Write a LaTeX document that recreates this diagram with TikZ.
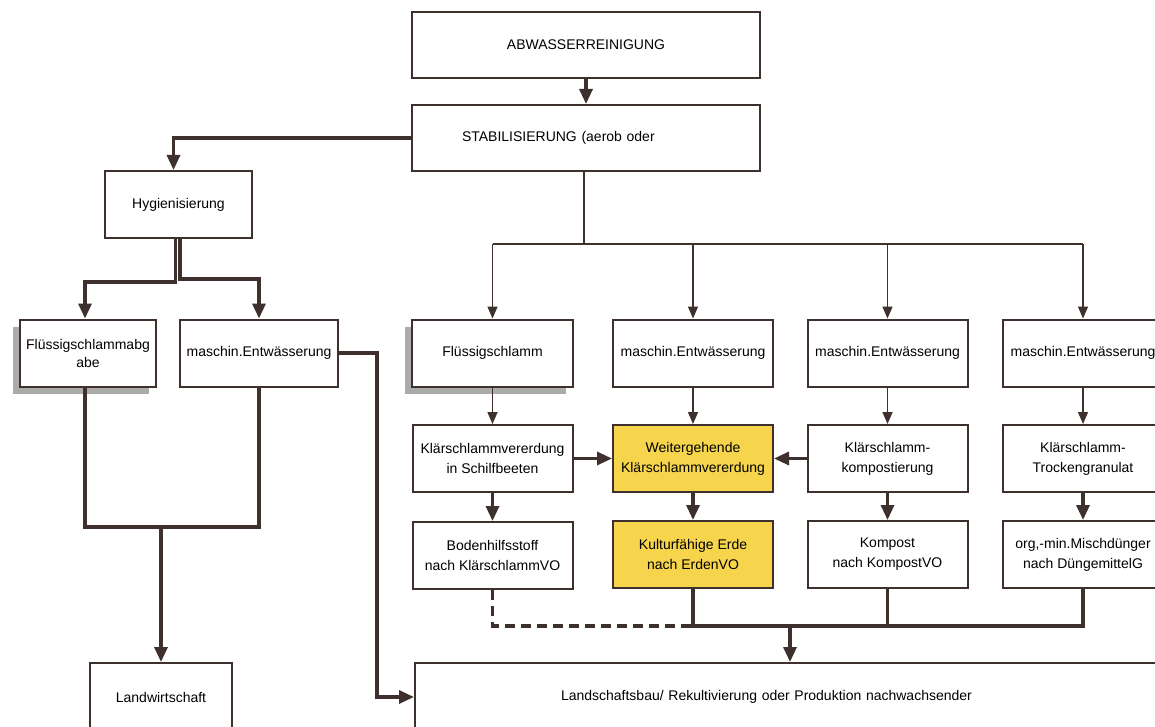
\documentclass[tikz,border=0pt]{standalone}
\usepackage{fontspec}
\setmainfont{Liberation Sans}
\usetikzlibrary{arrows.meta,shadows,calc}
\definecolor{lc}{HTML}{3D302D}
\definecolor{yel}{HTML}{F6D44C}
\definecolor{shad}{HTML}{ABABAB}
\begin{document}
\begin{tikzpicture}[x=1pt,y=-1pt,
  box/.style={draw=lc,line width=2pt,fill=white,inner sep=0pt,align=center,
    font=\fontsize{14}{20}\selectfont,minimum width=160pt,minimum height=67pt},
  hl/.style={box,fill=yel},
  shadowed/.style={drop shadow={shadow xshift=-7pt,shadow yshift=-7pt,fill=shad,opacity=1}},
  thk/.style={draw=lc,line width=3.2pt},
  thn/.style={draw=lc,line width=1.5pt},
  thkarrow/.style={thk,-{Triangle[length=15pt,width=13pt]}},
  thnarrow/.style={thn,-{Triangle[length=12pt,width=10pt]}},
  dashline/.style={thk,dash pattern=on 10pt off 6pt}]
\useasboundingbox (0,0) rectangle (1155,727);
\fill[white] (0,0) rectangle (1155,727);
\clip (0,0) rectangle (1155,727);

% top
\node[box,minimum width=348pt,minimum height=66pt] (abw) at (586,45) {ABWASSERREINIGUNG};
\node[box,minimum width=348pt,minimum height=66pt,text width=348pt,align=left] (stab) at (586,138)
  {\hspace*{50pt}STABILISIERUNG (aerob oder};

% left branch
\node[box,minimum width=147pt] (hyg) at (178.5,204.5) {Hygienisierung};
\node[box,shadowed,minimum width=136pt,font=\fontsize{14}{18}\selectfont] (fla) at (88,353) {Flüssigschlammabg\\abe};
\node[box,minimum width=158pt] (me1) at (259,353) {maschin.Entwässerung};
\node[box,minimum width=142pt,minimum height=68pt] (lw) at (161,697) {Landwirtschaft};

% right rows
\node[box,shadowed,minimum width=161pt] (fs) at (492.5,353) {Flüssigschlamm};
\node[box] (me2) at (693,353) {maschin.Entwässerung};
\node[box] (me3) at (887.5,353) {maschin.Entwässerung};
\node[box] (me4) at (1083,353) {maschin.Entwässerung};

\node[box] (kv) at (492.5,458.5) {Klärschlammvererdung\\in Schilfbeeten};
\node[hl] (wk) at (693,458.5) {Weitergehende\\Klärschlammvererdung};
\node[box] (kk) at (887.5,458.5) {Klärschlamm-\\kompostierung};
\node[box] (kt) at (1083,458.5) {Klärschlamm-\\Trockengranulat};

\node[box] (bh) at (492.5,555.5) {Bodenhilfsstoff\\nach KlärschlammVO};
\node[hl] (ke) at (693,554.5) {Kulturfähige Erde\\nach ErdenVO};
\node[box] (kp) at (887.5,554.5) {Kompost\\nach KompostVO};
\node[box] (od) at (1083,554.5) {org,-min.Mischdünger\\nach DüngemittelG};

\node[box,minimum width=755pt,minimum height=68pt,text width=755pt,align=left] (lb) at (792.5,697)
  {\hspace*{146pt}Landschaftsbau/ Rekultivierung oder Produktion nachwachsender};

% connectors top
\draw[thkarrow] (abw.south) -- (stab.north);
\draw[thkarrow] (stab.west) -| ([xshift=-5pt]hyg.north);

% hygienisierung split
\draw[thkarrow] ([xshift=-3pt]hyg.south) -- ++(0,43) -| ([xshift=-3pt]fla.north);
\draw[thkarrow] ([xshift=1.5pt]hyg.south) -- ++(0,40) -| (me1.north);

% left bottom
\coordinate (j1) at (161,527);
\draw[thk] ([xshift=-3pt]fla.south) |- (j1) -| (me1.south);
\draw[thkarrow] (j1) -- (lw.north);
\draw[thkarrow] (me1.east) -- ++(38,0) |- (lb.west);

% stabilisierung to right rows
\draw[thn] ([xshift=-2pt]stab.south) -- ++(0,72) coordinate (j2);
\draw[thn] (fs.north |- j2) -- (me4.north |- j2);
\foreach \n in {fs,me2,me3,me4} \draw[thnarrow] (\n.north |- j2) -- (\n.north);

% row1 -> row2
\draw[thnarrow] (fs.south) -- (kv.north);
\draw[thnarrow] (me2.south) -- (wk.north);
\draw[thnarrow] (me3.south) -- (kk.north);
\draw[thnarrow] (me4.south) -- (kt.north);

% row2 horizontal
\draw[thkarrow] (kv.east) -- (wk.west);
\draw[thkarrow] (kk.west) -- (wk.east);

% row2 -> row3
\draw[thkarrow] (kv.south) -- (bh.north);
\draw[thkarrow] (wk.south) -- (ke.north);
\draw[thkarrow] (kk.south) -- (kp.north);
\draw[thkarrow] (kt.south) -- (od.north);

% bottom collector
\coordinate (j3) at (790,626);
\draw[dashline] (bh.south) |- (ke.south |- j3);
\draw[thk] (ke.south) |- (od.south |- j3) -- (od.south);
\draw[thk] (kp.south) -- (kp.south |- j3);
\draw[thkarrow] (j3) -- (lb.north -| j3);
\end{tikzpicture}
\end{document}
